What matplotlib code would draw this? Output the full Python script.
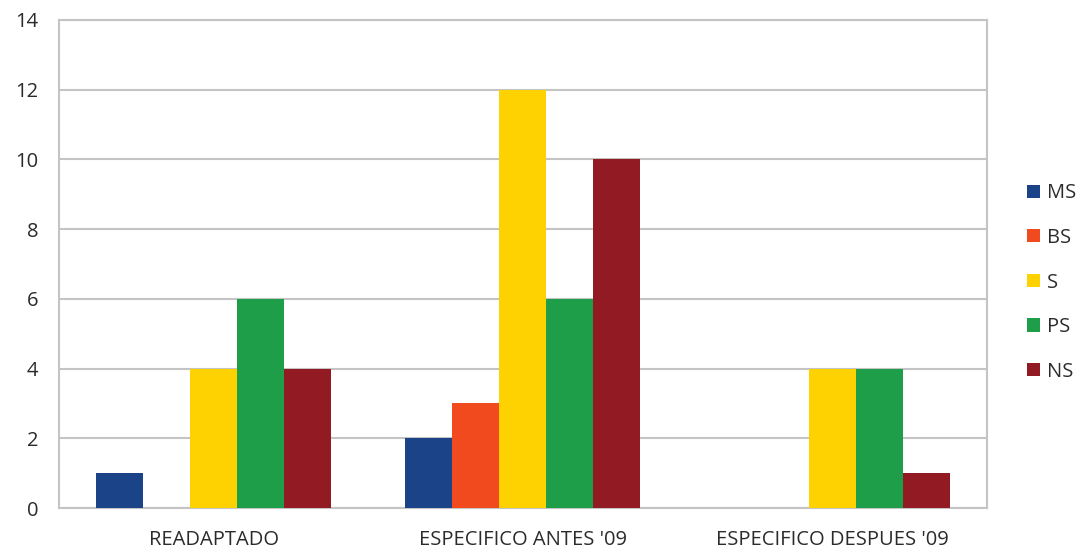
import numpy as np
import matplotlib.pyplot as plt

plt.rcParams['font.family'] = ['Open Sans', 'DejaVu Sans']

categorias = ['READAPTADO', "ESPECIFICO ANTES '09", "ESPECIFICO DESPUES '09"]
series = ['MS', 'BS', 'S', 'PS', 'NS']
valores = {
    'MS': [1, 2, 0],
    'BS': [0, 3, 0],
    'S':  [4, 12, 4],
    'PS': [6, 6, 4],
    'NS': [4, 10, 1],
}
colores = ['#1A4487', '#F04A1E', '#FDD200', '#1E9E48', '#921A22']

fig = plt.figure(figsize=(10.84, 5.54), dpi=100)
ax = fig.add_axes([0.0544, 0.083, 0.856, 0.881])

x = np.arange(len(categorias))
w = 0.152
for i, s in enumerate(series):
    ax.bar(x + (i - 2) * w, valores[s], w, color=colores[i], label=s, zorder=3)

ax.set_xlim(-0.5, 2.5)
ax.set_ylim(0, 14)
ax.set_yticks(np.arange(0, 15, 2))
ax.set_xticks(x)
ax.set_xticklabels(categorias)
ax.yaxis.grid(True, color='#c4c4c4', linewidth=1.5, zorder=0)
for sp in ax.spines.values():
    sp.set_color('#c4c4c4')
    sp.set_linewidth(1.5)
ax.tick_params(length=0, labelsize=14.5, labelcolor='#2b2b2b')
ax.tick_params(axis='y', pad=15)
ax.tick_params(axis='x', pad=16)

ax.legend(loc='center left', bbox_to_anchor=(1.035, 0.462), frameon=False,
          handlelength=0.62, handleheight=0.62, handletextpad=0.35,
          labelspacing=1.22, fontsize=14.5, labelcolor='#2b2b2b',
          borderaxespad=0)

plt.savefig('out.png', dpi=100)
